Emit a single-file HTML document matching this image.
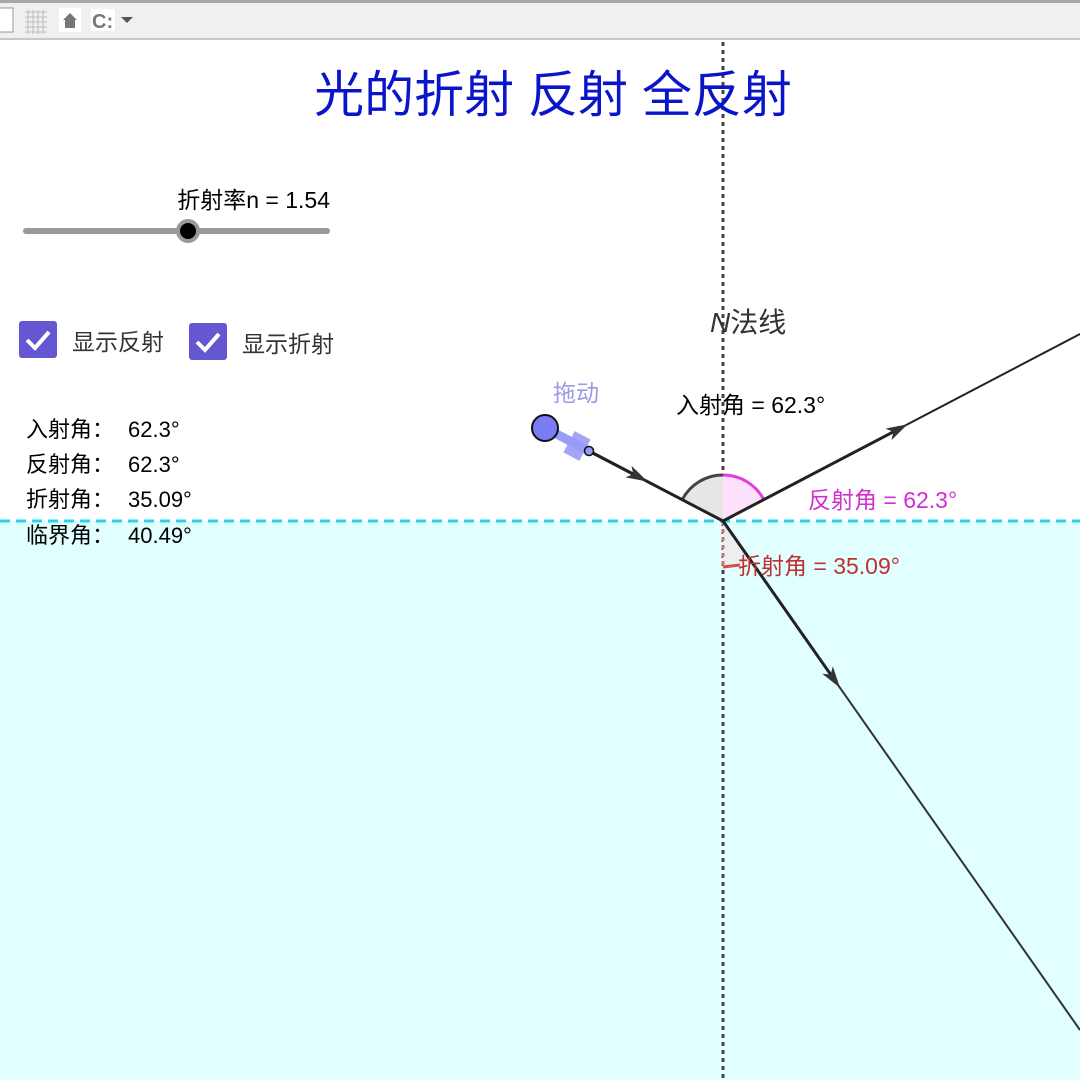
<!DOCTYPE html>
<html><head><meta charset="utf-8"><style>
html,body{margin:0;padding:0;width:1080px;height:1080px;overflow:hidden;background:#fff}
svg{display:block}
text{font-family:"Liberation Sans","Noto Sans CJK SC",sans-serif}
</style></head><body>
<svg width="1080" height="1080" viewBox="0 0 1080 1080" xmlns="http://www.w3.org/2000/svg">
<defs>
<marker id="ar" viewBox="0 0 20 12" refX="12" refY="6" markerWidth="22" markerHeight="13" orient="auto" markerUnits="userSpaceOnUse">
<path d="M0,0 L20,6 L0,12 L5,6 z" fill="#333"/></marker>
</defs>
<!-- toolbar -->
<rect x="0" y="0" width="1080" height="40" fill="#f0f0f0"/>
<rect x="0" y="0" width="1080" height="3" fill="#a8a8a8"/>
<rect x="0" y="38" width="1080" height="2" fill="#c8c8c8"/>
<rect x="-2" y="8" width="15" height="24" fill="#fff" stroke="#999"/>
<g stroke="#bbb" stroke-width="1">
<path d="M25 12h22M25 17h22M25 22h22M25 27h22M25 32h22M28 10v24M33 10v24M38 10v24M43 10v24"/></g>
<rect x="59" y="8" width="22" height="24" fill="#fff"/>
<path d="M63 20 L70 13 L77 20 L75 20 L75 28 L65 28 L65 20 Z" fill="#777"/>
<rect x="91" y="9" width="24" height="22" fill="#fff"/>
<text x="92" y="28" font-size="20" font-weight="bold" fill="#777">C:</text>
<path d="M121 17 L133 17 L127 23 Z" fill="#555"/>
<!-- water -->
<rect x="0" y="521" width="1080" height="559" fill="#e1ffff"/>
<line x1="0" y1="521" x2="1080" y2="521" stroke="#22d8e8" stroke-width="3" stroke-dasharray="10,6"/>
<!-- normal -->
<line x1="723" y1="42" x2="723" y2="1080" stroke="#444" stroke-width="3" stroke-dasharray="4,4"/>
<!-- title -->
<text x="553" y="112" font-size="50" fill="#0a14c8" text-anchor="middle" font-family="'Liberation Serif','Noto Serif CJK SC',serif">光的折射 反射 全反射</text>
<!-- slider -->
<text x="330" y="208" font-size="23" fill="#000" text-anchor="end">折射率n = 1.54</text>
<line x1="26" y1="231" x2="327" y2="231" stroke="#999" stroke-width="6" stroke-linecap="round"/>
<circle cx="188" cy="231" r="12" fill="#999"/>
<circle cx="188" cy="231" r="8" fill="#000"/>
<!-- checkboxes -->
<rect x="19" y="321" width="38" height="37" rx="3" fill="#6557d2"/>
<path d="M27 340 L35 348 L49 332" stroke="#fff" stroke-width="4" fill="none"/>
<text x="72" y="350" font-size="23" fill="#333">显示反射</text>
<rect x="189" y="323" width="38" height="37" rx="3" fill="#6557d2"/>
<path d="M197 342 L205 350 L219 334" stroke="#fff" stroke-width="4" fill="none"/>
<text x="242" y="352" font-size="23" fill="#333">显示折射</text>
<!-- info -->
<g font-size="22" fill="#000">
<text x="26" y="437">入射角：</text><text x="128" y="437">62.3°</text>
<text x="26" y="472">反射角：</text><text x="128" y="472">62.3°</text>
<text x="26" y="507">折射角：</text><text x="128" y="507">35.09°</text>
<text x="26" y="543">临界角：</text><text x="128" y="543">40.49°</text>
</g>
<!-- angle arcs -->
<path d="M723 521 L723 475 A46 46 0 0 0 682 500 Z" fill="#e6e6e6"/>
<path d="M723 475 A46 46 0 0 0 682 500" fill="none" stroke="#444" stroke-width="3"/>
<path d="M723 521 L723 475 A46 46 0 0 1 764 500 Z" fill="#ffe0fa"/>
<path d="M723 475 A46 46 0 0 1 764 500" fill="none" stroke="#e040e0" stroke-width="3"/>
<path d="M723 521 L723 567 A46 46 0 0 0 749 559 Z" fill="#eee"/>
<path d="M723 567 L740 565" fill="none" stroke="#d05050" stroke-width="3"/>
<line x1="723" y1="521" x2="723" y2="567" stroke="#d07070" stroke-width="3" stroke-dasharray="4,4"/>
<!-- rays -->
<line x1="589" y1="451" x2="723" y2="521" stroke="#222" stroke-width="3"/>
<line x1="589" y1="451" x2="640" y2="477.6" stroke="#222" stroke-width="3" marker-end="url(#ar)"/>
<line x1="723" y1="521" x2="1080" y2="334" stroke="#222" stroke-width="2"/>
<line x1="723" y1="521" x2="900" y2="428.3" stroke="#222" stroke-width="3" marker-end="url(#ar)"/>
<line x1="723" y1="521" x2="1080" y2="1030" stroke="#333" stroke-width="2"/>
<line x1="723" y1="521" x2="835" y2="680.7" stroke="#222" stroke-width="3" marker-end="url(#ar)"/>
<!-- drag handle -->
<line x1="545" y1="428" x2="589" y2="451" stroke="#9a9af8" stroke-width="9"/>
<rect x="568" y="434" width="18" height="24" fill="#9a9af8" opacity="0.9" transform="rotate(28 577 446)"/>
<circle cx="545" cy="428" r="13" fill="#7b7bf5" stroke="#111" stroke-width="2"/>
<circle cx="589" cy="451" r="4.5" fill="#9a9af8" stroke="#111" stroke-width="1.5"/>
<text x="553" y="401" font-size="23" fill="#9a9ae0">拖动</text>
<!-- labels -->
<text x="710" y="332" font-size="28" fill="#333" font-family="'Liberation Serif','Noto Serif CJK SC',serif"><tspan font-style="italic">N</tspan>法线</text>
<text x="676" y="413" font-size="23" fill="#000">入射角 = 62.3°</text>
<text x="808" y="508" font-size="23" fill="#d030d0">反射角 = 62.3°</text>
<text x="738" y="574" font-size="23" fill="#c03030">折射角 = 35.09°</text>
</svg>
</body></html>
